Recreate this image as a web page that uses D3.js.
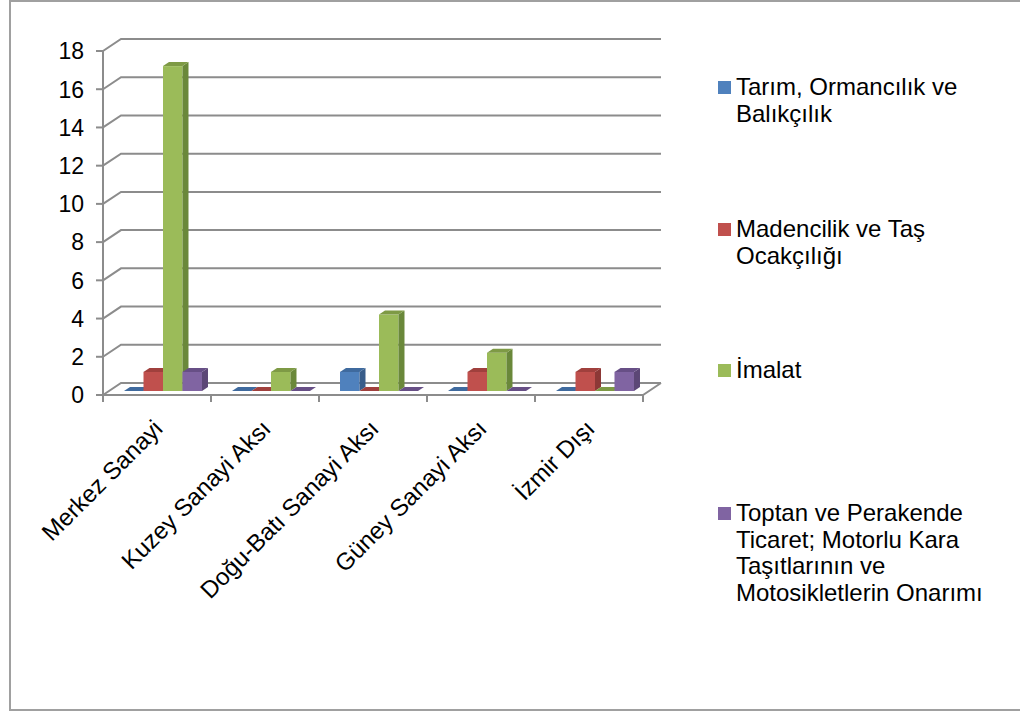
<!DOCTYPE html>
<html><head><meta charset="utf-8">
<script src="https://cdn.jsdelivr.net/npm/d3@7"></script>
<style>html,body{margin:0;padding:0;background:#fff;}svg{display:block;}</style>
</head><body>
<svg id="c" width="1020" height="715"></svg>
<script>
const categories = ["Merkez Sanayi","Kuzey Sanayi Aksı","Doğu-Batı Sanayi Aksı","Güney Sanayi Aksı","İzmir Dışı"];
const seriesNames = ["Tarım, Ormancılık ve Balıkçılık","Madencilik ve Taş Ocakçılığı","İmalat","Toptan ve Perakende Ticaret; Motorlu Kara Taşıtlarının ve Motosikletlerin Onarımı"];
const legendLines = [["Tarım, Ormancılık ve","Balıkçılık"],["Madencilik ve Taş","Ocakçılığı"],["İmalat"],["Toptan ve Perakende","Ticaret; Motorlu Kara","Taşıtlarının ve","Motosikletlerin Onarımı"]];
const tarim  = [0,0,1,0,0];
const maden  = [1,0,0,1,1];
const imalat = [17,1,4,2,0];
const toptan = [1,0,0,0,1];
const yTicks = [0,2,4,6,8,10,12,14,16,18];
const colors = [
  {front:"#4F81BD", top:"#3F6A9E", side:"#385D8A"},
  {front:"#C0504D", top:"#A0403D", side:"#8C3836"},
  {front:"#9BBB59", top:"#7E9A45", side:"#6A883A"},
  {front:"#8064A2", top:"#674F86", side:"#5C4776"}
];
const values = [tarim, maden, imalat, toptan];

const svg = d3.select("#c");
const FONT = "'Liberation Sans', Arial, sans-serif";
svg.append("rect").attr("x",10).attr("y",1).attr("width",1020).attr("height",709)
  .attr("fill","none").attr("stroke","#A0A0A0").attr("stroke-width",2);

const x0 = 103, x1 = 643, DX = 18, DY = -12;
const y = d3.scaleLinear().domain([0,18]).range([395,51]);
const xCat = d3.scaleBand().domain(categories).range([x0,x1]).paddingInner(0).paddingOuter(0);
const xSer = d3.scaleBand().domain(d3.range(4)).range([0,xCat.bandwidth()]).paddingInner(0).paddingOuter(0.77);
const gridC = "#8C8C8C";
const g = svg.append("g");

yTicks.forEach(t => {
  const yy = y(t);
  g.append("path").attr("d", `M${x0},${yy}L${x0+DX},${yy+DY}L${x1+DX},${yy+DY}`)
    .attr("fill","none").attr("stroke",gridC).attr("stroke-width",2);
  g.append("line").attr("x1",x0-7).attr("x2",x0).attr("y1",yy).attr("y2",yy)
    .attr("stroke",gridC).attr("stroke-width",2);
  g.append("text").attr("x",84).attr("y",yy).attr("dy","0.36em").attr("text-anchor","end")
    .attr("font-family",FONT).attr("font-size",23).attr("fill","#000").text(t);
});
g.append("path").attr("d",`M${x0},${y(0)}L${x1},${y(0)}L${x1+DX},${y(0)+DY}`)
  .attr("fill","none").attr("stroke",gridC).attr("stroke-width",2);
g.append("line").attr("x1",x0).attr("x2",x0).attr("y1",y(18)).attr("y2",y(0))
  .attr("stroke",gridC).attr("stroke-width",2);
const bounds = categories.map(c => xCat(c)).concat([x1]);
bounds.forEach(b => {
  g.append("line").attr("x1",b).attr("x2",b).attr("y1",y(0)).attr("y2",y(0)+7)
    .attr("stroke",gridC).attr("stroke-width",2);
});

const bdx = 6, bdy = -4;
const bw = xSer.bandwidth();
categories.forEach((c,ci) => {
  values.forEach((vals,si) => {
    const v = vals[ci];
    const bx = xCat(c) + xSer(si) + bdx;
    const yt = y(v) + bdy, yb = y(0) + bdy;
    const col = colors[si];
    if (v > 0) {
      g.append("rect").attr("x",bx).attr("y",yt).attr("width",bw).attr("height",yb-yt).attr("fill",col.front);
      g.append("path").attr("d",`M${bx+bw},${yt}L${bx+bw+bdx},${yt+bdy}L${bx+bw+bdx},${yb+bdy}L${bx+bw},${yb}Z`).attr("fill",col.side);
    }
    g.append("path").attr("d",`M${bx},${yt}L${bx+bw},${yt}L${bx+bw+bdx},${yt+bdy}L${bx+bdx},${yt+bdy}Z`).attr("fill",col.top);
  });
});

categories.forEach(c => {
  const cx = xCat(c) + xCat.bandwidth()/2;
  svg.append("text").attr("transform",`translate(${cx+1},${424}) rotate(-45)`)
    .attr("text-anchor","end").attr("dy","0.36em")
    .attr("font-family",FONT).attr("font-size",24).attr("fill","#000").text(c);
});

const legY = [87,229,370,513];
legendLines.forEach((lines,i) => {
  const lg = svg.append("g");
  lg.append("rect").attr("x",718).attr("y",legY[i]-6).attr("width",13).attr("height",13).attr("fill",colors[i].front);
  const t = lg.append("text").attr("font-family",FONT).attr("font-size",24).attr("fill","#000");
  lines.forEach((ln,k) => {
    t.append("tspan").attr("x",736).attr("y",legY[i]+8+k*26.7).text(ln);
  });
});
</script>
</body></html>
